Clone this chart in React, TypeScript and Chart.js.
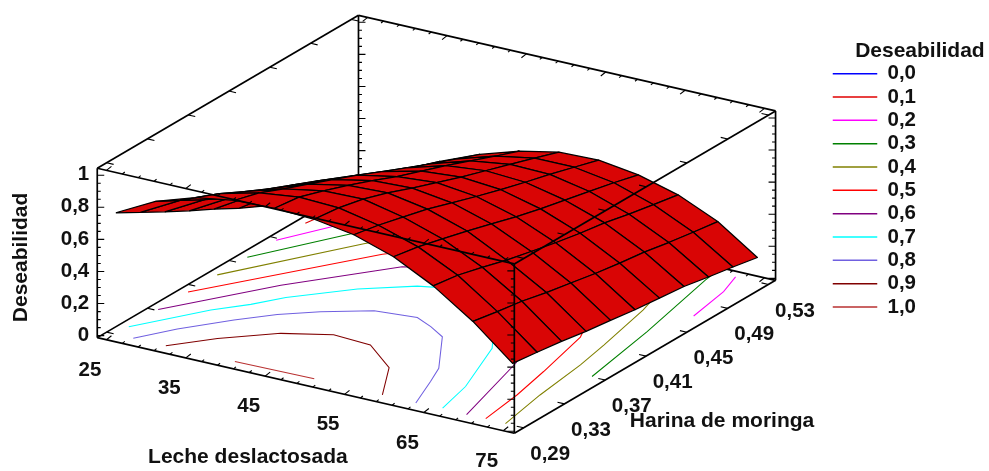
import React, { useEffect, useRef } from "react";
import { Chart, registerables } from "chart.js";

Chart.register(...registerables);

// ---------- data ----------
const lecheGrid = [25, 30, 35, 40, 45, 50, 55, 60, 65, 70, 75];
const harinaGrid = [0.29, 0.314, 0.338, 0.362, 0.386, 0.41, 0.434, 0.458, 0.482, 0.506, 0.53];
// one row per lecheGrid value, one column per harinaGrid value
const deseabilidad = [
  [0.745, 0.658, 0.572, 0.489, 0.41, 0.325, 0.25, 0.16, 0.09, 0.055, 0.03],
  [0.873, 0.79, 0.705, 0.625, 0.555, 0.48, 0.405, 0.325, 0.26, 0.21, 0.165],
  [0.953, 0.888, 0.812, 0.74, 0.675, 0.61, 0.54, 0.465, 0.395, 0.34, 0.285],
  [0.993, 0.95, 0.885, 0.825, 0.765, 0.703, 0.635, 0.57, 0.505, 0.445, 0.385],
  [1, 0.98, 0.93, 0.875, 0.815, 0.75, 0.695, 0.64, 0.58, 0.52, 0.463],
  [0.988, 0.97, 0.935, 0.885, 0.825, 0.77, 0.715, 0.665, 0.615, 0.565, 0.513],
  [0.948, 0.918, 0.88, 0.84, 0.79, 0.74, 0.693, 0.65, 0.61, 0.565, 0.52],
  [0.868, 0.84, 0.8, 0.76, 0.715, 0.67, 0.63, 0.595, 0.56, 0.525, 0.485],
  [0.743, 0.72, 0.68, 0.635, 0.6, 0.565, 0.535, 0.51, 0.475, 0.445, 0.417],
  [0.578, 0.55, 0.525, 0.49, 0.46, 0.43, 0.405, 0.385, 0.355, 0.33, 0.307],
  [0.373, 0.353, 0.332, 0.305, 0.284, 0.261, 0.244, 0.227, 0.197, 0.17, 0.14],
];

const levelLabels = ["0,0", "0,1", "0,2", "0,3", "0,4", "0,5", "0,6", "0,7", "0,8", "0,9", "1,0"];
const levelColors = ["#0000ff", "#e00000", "#ff00ff", "#008000", "#808000", "#ff0000", "#800080", "#00ffff", "#7060e0", "#800000", "#b83030"];

// floor contours as [leche, harina] pairs; level index into levelLabels
const contour10 = [[40, 0.29], [49.85, 0.2912]];
const contour09 = [[31.3, 0.29], [34.85, 0.313], [39.8, 0.3366], [44.8, 0.3495], [49.7, 0.3474], [54.9, 0.3253], [58.5, 0.2907]];
const contour08 = [[27.2, 0.29], [29.75, 0.3133], [33.5, 0.3397], [36.55, 0.3584], [40.05, 0.3735], [44.75, 0.3896], [49.7, 0.3934], [52.35, 0.386], [54.95, 0.3771], [59.5, 0.3382], [60.8, 0.32], [62.8, 0.29]];
const contour07 = [[25, 0.3027], [29.85, 0.3454], [32.6, 0.3632], [34.7, 0.3812], [39.9, 0.411], [44.85, 0.4311], [50, 0.4412], [55, 0.4292], [61.25, 0.3769], [64.75, 0.3236], [66, 0.2914]];
const contour06 = [[25, 0.3315], [32.35, 0.3946], [40.5, 0.4501], [50, 0.4724], [60, 0.4532], [65.7, 0.3654], [69.2, 0.29]];
const contour05 = [[25, 0.3608], [36.75, 0.4599], [48.5, 0.5252], [53.5, 0.5276], [61.5, 0.4868], [67.5, 0.4148], [69.5, 0.3632], [70.7, 0.328], [71.55, 0.2905]];
const contour04a = [[25, 0.3894], [33.45, 0.4674], [41, 0.53]];
const contour04b = [[65.75, 0.53], [69, 0.4645], [70.85, 0.412], [71.8, 0.3814], [72.8, 0.334], [74.1, 0.29]];
const contour03a = [[25, 0.4189], [30.65, 0.4746], [35.5, 0.53]];
const contour03b = [[69.7, 0.53], [70, 0.5178], [72.7, 0.4398], [74.65, 0.3706]];
const contour02a = [[25, 0.4472], [27.85, 0.4784], [30, 0.53]];
const contour02b = [[72.25, 0.53], [73.45, 0.5089], [74.5, 0.4714]];
const contour01 = [[25, 0.4758], [26.5, 0.53]];
const contourList: [number, number[][]][] = [
  [10, contour10], [9, contour09], [8, contour08], [7, contour07], [6, contour06], [5, contour05],
  [4, contour04a], [4, contour04b], [3, contour03a], [3, contour03b], [2, contour02a], [2, contour02b], [1, contour01],
];

const lecheMajor = [25, 35, 45, 55, 65, 75];
const lecheMinor = [27, 29, 31, 33, 37, 39, 41, 43, 47, 49, 51, 53, 57, 59, 61, 63, 67, 69, 71, 73];
const harinaMajor = [0.29, 0.33, 0.37, 0.41, 0.45, 0.49, 0.53];
const harinaLabels = ["0,29", "0,33", "0,37", "0,41", "0,45", "0,49", "0,53"];
const zMajor = [0, 0.2, 0.4, 0.6, 0.8, 1];
const zMajorLabels = ["0", "0,2", "0,4", "0,6", "0,8", "1"];
const zMinor = [0.05, 0.1, 0.15, 0.25, 0.3, 0.35, 0.45, 0.5, 0.55, 0.65, 0.7, 0.75, 0.85, 0.9, 0.95];

// ---------- view of the box (parallel projection) ----------
const W = 989;
const H = 471;
const X_RANGE = [23.84, 76.4];
const H_RANGE = [0.2808, 0.5369];
const Z_RANGE = [-0.0124, 1.0436];
const ORIGIN = [96.5, 338];
const X_VEC = [417.5, 96];
const H_VEC = [261.5, -153.5];
const Z_VEC = 170;

const project = (x: number, h: number, z: number) => {
  const fx = (x - X_RANGE[0]) / (X_RANGE[1] - X_RANGE[0]);
  const fh = (h - H_RANGE[0]) / (H_RANGE[1] - H_RANGE[0]);
  const fz = (z - Z_RANGE[0]) / (Z_RANGE[1] - Z_RANGE[0]);
  return {
    x: ORIGIN[0] + X_VEC[0] * fx + H_VEC[0] * fh,
    y: ORIGIN[1] + X_VEC[1] * fx + H_VEC[1] * fh - Z_VEC * fz,
  };
};

const GAP = { x: NaN, y: NaN };
const [xLo, xHi] = X_RANGE;
const [hLo, hHi] = H_RANGE;
const [zLo, zHi] = Z_RANGE;

const lineSet = (data: any[], color: string, width: number) => ({
  data,
  borderColor: color,
  borderWidth: width,
  showLine: true,
  pointRadius: 0,
  tension: 0,
  fill: false,
  clip: false,
  borderCapStyle: "butt",
  borderJoinStyle: "miter",
});

type P = { x: number; y: number };
const tickMarks = (at: (v: number) => P, values: number[], dx: number, dy: number) => {
  const out: any[] = [];
  values.forEach((v) => {
    const p = at(v);
    out.push(p, { x: p.x + dx, y: p.y + dy }, GAP);
  });
  return out;
};

const backAxes = () => {
  const sets: any[] = [];
  const edge = (a: P, b: P) => sets.push(lineSet([a, b], "#000", 1.7));
  edge(project(xLo, hHi, zLo), project(xLo, hHi, zHi));
  edge(project(xLo, hLo, zLo), project(xLo, hHi, zLo));
  edge(project(xLo, hHi, zLo), project(xHi, hHi, zLo));
  edge(project(xLo, hLo, zLo), project(xHi, hLo, zLo));
  edge(project(xHi, hLo, zLo), project(xHi, hHi, zLo));
  edge(project(xHi, hHi, zLo), project(xHi, hHi, zHi));
  edge(project(xLo, hLo, zLo), project(xLo, hLo, zHi));
  const t = (at: (v: number) => P, vals: number[], dx: number, dy: number) =>
    sets.push(lineSet(tickMarks(at, vals, dx, dy), "#000", 1.1));
  // leche ticks on the floor edges
  t((v) => project(v, hLo, zLo), lecheMajor, 5, -4);
  t((v) => project(v, hLo, zLo), lecheMinor, 2.5, -2);
  t((v) => project(v, hHi, zLo), lecheMajor, -5, 4);
  t((v) => project(v, hHi, zLo), lecheMinor, -2.5, 2);
  // harina ticks on the floor edges
  t((v) => project(xLo, v, zLo), harinaMajor, 7, 1.6);
  t((v) => project(xHi, v, zLo), harinaMajor, -7, -1.6);
  // vertical ticks
  t((v) => project(xLo, hLo, v), zMajor, 7, 0);
  t((v) => project(xLo, hLo, v), zMinor, 3.5, 0);
  t((v) => project(xLo, hHi, v), zMajor, 7, 0);
  t((v) => project(xLo, hHi, v), zMinor, 3.5, 0);
  t((v) => project(xHi, hHi, v), zMajor, -7, 0);
  t((v) => project(xHi, hHi, v), zMinor, -3.5, 0);
  return sets;
};

const frontAxes = () => {
  const sets: any[] = [];
  const edge = (a: P, b: P) => sets.push(lineSet([a, b], "#000", 1.7));
  edge(project(xHi, hLo, zLo), project(xHi, hLo, zHi));
  edge(project(xLo, hLo, zHi), project(xHi, hLo, zHi));
  edge(project(xHi, hLo, zHi), project(xHi, hHi, zHi));
  edge(project(xHi, hHi, zHi), project(xLo, hHi, zHi));
  edge(project(xLo, hHi, zHi), project(xLo, hLo, zHi));
  const t = (at: (v: number) => P, vals: number[], dx: number, dy: number) =>
    sets.push(lineSet(tickMarks(at, vals, dx, dy), "#000", 1.1));
  t((v) => project(v, hLo, zHi), lecheMajor, 5, -4);
  t((v) => project(v, hLo, zHi), lecheMinor, 2.5, -2);
  t((v) => project(v, hHi, zHi), lecheMajor, -5, 4);
  t((v) => project(v, hHi, zHi), lecheMinor, -2.5, 2);
  t((v) => project(xLo, v, zHi), harinaMajor, 7, 1.6);
  t((v) => project(xHi, v, zHi), harinaMajor, -7, -1.6);
  t((v) => project(xHi, hLo, v), zMajor, -7, 0);
  t((v) => project(xHi, hLo, v), zMinor, -3.5, 0);
  return sets;
};

const contourSets = () =>
  contourList.map(([level, pts]) =>
    lineSet(pts.map(([x, h]) => project(x, h, zLo)), levelColors[level], 1.05)
  );

const SURFACE_RED = "#d90505";
const surfaceSets = () => {
  const sets: any[] = [];
  for (let j = harinaGrid.length - 2; j >= 0; j--) {
    for (let i = 0; i < lecheGrid.length - 1; i++) {
      const corner = (a: number, b: number) => project(lecheGrid[a], harinaGrid[b], deseabilidad[a][b]);
      const a = corner(i, j);
      sets.push({
        ...lineSet([a, corner(i + 1, j), corner(i + 1, j + 1), corner(i, j + 1), a], "#000", 1.25),
        quadFill: SURFACE_RED,
        borderJoinStyle: "round",
      });
    }
  }
  return sets;
};

const quadPlugin = {
  id: "quadFill",
  beforeDatasetDraw(chart: any, args: any) {
    const ds = chart.data.datasets[args.index];
    if (!ds.quadFill) return;
    const pts = args.meta.data;
    const ctx = chart.ctx;
    ctx.save();
    ctx.beginPath();
    pts.forEach((p: any, k: number) => (k ? ctx.lineTo(p.x, p.y) : ctx.moveTo(p.x, p.y)));
    ctx.closePath();
    ctx.fillStyle = ds.quadFill;
    ctx.fill();
    ctx.restore();
  },
};

const TEXT_COLOR = "#111";
const TICK_FONT = 'bold 20.5px "Liberation Sans", Arial, sans-serif';
const TITLE_FONT = 'bold 21px "Liberation Sans", Arial, sans-serif';

const textPlugin = {
  id: "boxText",
  afterDraw(chart: any) {
    const ctx = chart.ctx;
    const sx = chart.scales.x;
    const sy = chart.scales.y;
    const put = (text: string, px: number, py: number, align: CanvasTextAlign = "center") => {
      ctx.textAlign = align;
      ctx.fillText(text, sx.getPixelForValue(px), sy.getPixelForValue(py));
    };
    ctx.save();
    ctx.fillStyle = TEXT_COLOR;
    ctx.textBaseline = "middle";
    ctx.font = TICK_FONT;
    lecheMajor.forEach((v) => {
      const p = project(v, hLo, zLo);
      put(String(v), p.x - 16.5, p.y + 30.5);
    });
    harinaMajor.forEach((v, k) => {
      const p = project(xHi, v, zLo);
      put(harinaLabels[k], p.x + 26.5, p.y + 26.5);
    });
    zMajor.forEach((v, k) => {
      const p = project(xLo, hLo, v);
      put(zMajorLabels[k], p.x - 8, p.y - 0.5, "right");
    });
    ctx.font = TITLE_FONT;
    const a = project(50, hLo, zLo);
    put("Leche deslactosada", a.x - 57, a.y + 72);
    const b = project(xHi, 0.41, zLo);
    put("Harina de moringa", b.x + 76, b.y + 65);
    put("Deseabilidad", 920, 51);
    const c = project(xLo, hLo, 0.5);
    ctx.translate(sx.getPixelForValue(c.x - 76), sy.getPixelForValue(c.y + 2));
    ctx.rotate(-Math.PI / 2);
    ctx.textAlign = "center";
    ctx.fillText("Deseabilidad", 0, 0);
    ctx.restore();
  },
};

export default function App() {
  const ref = useRef<HTMLCanvasElement>(null);
  useEffect(() => {
    document.body.style.margin = "0";
    const ordered = [...backAxes(), ...contourSets(), ...surfaceSets(), ...frontAxes()];
    const datasets = ordered.map((d, k) => ({ ...d, order: ordered.length - k }));
    const chart = new Chart(ref.current as HTMLCanvasElement, {
      type: "scatter",
      data: { datasets } as any,
      plugins: [quadPlugin, textPlugin],
      options: {
        animation: false,
        responsive: false,
        layout: { padding: { right: 63 } },
        scales: {
          x: { type: "linear", display: false, min: 0, max: W },
          y: { type: "linear", display: false, min: 0, max: H, reverse: true },
        },
        plugins: {
          tooltip: { enabled: false },
          legend: {
            position: "right",
            align: "start",
            title: {
              display: true,
              text: " ",
              font: { size: 20.5 },
              padding: { top: 18, bottom: 18 },
            },
            labels: {
              boxWidth: 44.5,
              boxHeight: 1.5,
              padding: 2.83,
              color: TEXT_COLOR,
              font: { family: '"Liberation Sans", Arial, sans-serif', size: 20.5, weight: "bold" },
              generateLabels: () =>
                levelLabels.map((text, k) => ({
                  text,
                  fillStyle: levelColors[k],
                  strokeStyle: levelColors[k],
                  lineWidth: 0,
                  datasetIndex: k,
                  fontColor: TEXT_COLOR,
                })),
            },
          },
        },
      } as any,
    });
    (chart.options as any).scales.x.max = chart.chartArea.right;
    (chart.options as any).scales.y.max = chart.chartArea.bottom;
    chart.update();
    return () => chart.destroy();
  }, []);
  return (
    <div style={{ width: W, height: H }}>
      <canvas ref={ref} width={W} height={H} style={{ display: "block" }} />
    </div>
  );
}
